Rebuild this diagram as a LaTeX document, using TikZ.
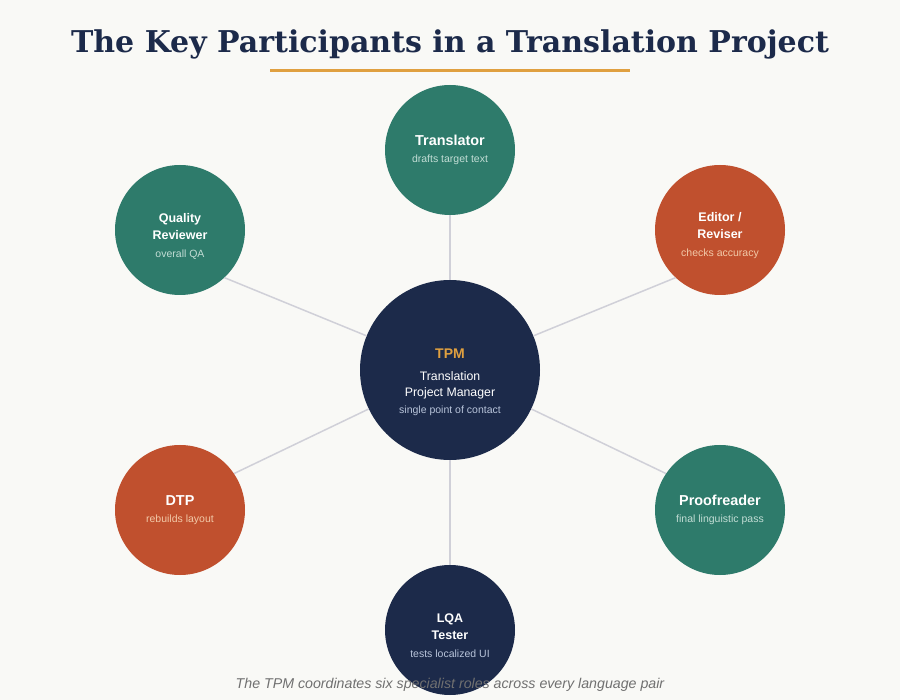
\documentclass[tikz,border=0pt]{standalone}
\usepackage{fontspec}
\setmainfont{Liberation Sans}
\newfontfamily\titlefont{DejaVu Serif}
\definecolor{bgc}{HTML}{F9F9F6}
\definecolor{navy}{HTML}{1C2A4A}
\definecolor{tealc}{HTML}{2E7B6B}
\definecolor{rust}{HTML}{C0502E}
\definecolor{gold}{HTML}{E0A040}
\definecolor{linec}{HTML}{D0D0D8}
\definecolor{subteal}{HTML}{C2DDD5}
\definecolor{subrust}{HTML}{F2C9A8}
\definecolor{subnavy}{HTML}{B8C4DA}
\definecolor{capc}{HTML}{707070}
\tikzset{
  role/.style={circle, minimum size=130pt, inner sep=0pt},
  tealrole/.style={role, fill=tealc},
  rustrole/.style={role, fill=rust},
  navyrole/.style={role, fill=navy},
  roletext/.style={align=center, inner sep=0pt, text=white, font=\fontsize{12.5}{15}\selectfont\bfseries},
  conn/.style={draw=linec, line width=1.5pt},
}
\newcommand{\bigname}{\fontsize{14.4}{16}\selectfont\bfseries}
\newcommand{\subtxt}[1]{\fontsize{10.5}{12}\selectfont\mdseries\color{#1}}
\begin{document}
\begin{tikzpicture}[x=1pt,y=-1pt]
\fill[bgc] (0,0) rectangle (900,700);
\useasboundingbox (0,0) rectangle (900,700);
\node[font=\titlefont\fontsize{30}{34}\selectfont\bfseries, text=navy] (title) at (450,44) {The Key Participants in a Translation Project};
\draw[gold, line width=3pt] (270,71) -- (630,71);
% circles
\node[navyrole, minimum size=180pt] (tpm) at (450,370) {};
\node[tealrole] (tr) at (450,150) {};
\node[rustrole] (ed) at (720,230) {};
\node[tealrole] (pr) at (720,510) {};
\node[navyrole] (lqa) at (450,630) {};
\node[rustrole] (dtp) at (180,510) {};
\node[tealrole] (qr) at (180,230) {};
% texts
\node[roletext, font=\fontsize{12.3}{16}\selectfont] (tpmt) at (450,382)
  {{\fontsize{14}{16}\selectfont\bfseries\color{gold}TPM}\\[6pt]Translation\\Project Manager\\[1pt]\subtxt{subnavy}single point of contact};
\node[roletext] (trt) at (450,150) {\bigname Translator\\[2pt]\subtxt{subteal}drafts target text};
\node[roletext] (edt) at (720,236) {Editor /\\[2pt]Reviser\\[3pt]\subtxt{subrust}checks accuracy};
\node[roletext] (prt) at (720,510) {\bigname Proofreader\\[2pt]\subtxt{subteal}final linguistic pass};
\node[roletext] (lqat) at (450,636) {LQA\\[2pt]Tester\\[3pt]\subtxt{subnavy}tests localized UI};
\node[roletext] (dtpt) at (180,510) {\bigname DTP\\[2pt]\subtxt{subrust}rebuilds layout};
\node[roletext] (qrt) at (180,236) {Quality\\[2pt]Reviewer\\[3pt]\subtxt{subteal}overall QA};
% connectors
\draw[conn] (tpm) -- (tr);
\draw[conn] (tpm) -- (lqa);
\draw[conn] (tpm) -- (qr.-47);
\draw[conn] (tpm) -- (ed.-133);
\draw[conn] (tpm) -- (dtp.34);
\draw[conn] (tpm) -- (pr.146);
\node[font=\fontsize{14.2}{16}\selectfont\itshape, text=capc] (cap) at (450,685) {The TPM coordinates six specialist roles across every language pair};
\end{tikzpicture}
\end{document}
